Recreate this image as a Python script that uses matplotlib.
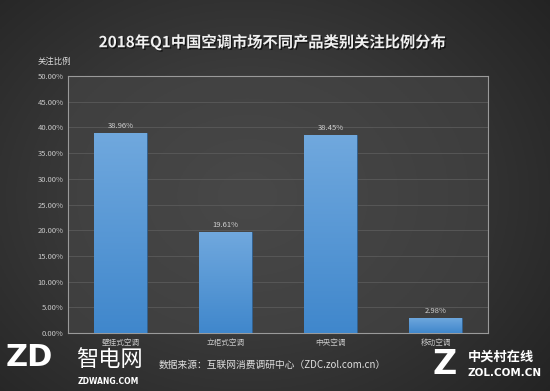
import numpy as np
import matplotlib
matplotlib.use("Agg")
import matplotlib.pyplot as plt
import matplotlib.patheffects as pe
from matplotlib.ticker import FuncFormatter, MultipleLocator

plt.rcParams['font.family'] = ['Noto Sans CJK SC', 'DejaVu Sans']

categories = ["壁挂式空调", "立柜式空调", "中央空调", "移动空调"]
values = [38.96, 19.61, 38.45, 2.98]
title = "2018年Q1中国空调市场不同产品类别关注比例分布"
ylabel = "关注比例"
source = "数据来源：互联网消费调研中心（ZDC.zol.com.cn）"

W, H = 550, 391
fig = plt.figure(figsize=(5.5, 3.91), dpi=100)

# background radial gradient
bg = fig.add_axes([0, 0, 1, 1])
yy, xx = np.mgrid[0:1:200j, 0:1:280j]
r = np.sqrt(((xx - 0.45) / 0.75) ** 2 + ((yy - 0.5) / 0.85) ** 2)
v = np.clip(0.29 - 0.16 * r, 0.1, 0.3)
img = np.dstack([v, v, v])
bg.imshow(img, extent=[0, 1, 0, 1], aspect='auto', origin='lower')
bg.set_axis_off()

ax = fig.add_axes([68 / W, 1 - 333 / H, 420 / W, 257 / H])
ax.set_facecolor('#474747')
ax.patch.set_alpha(0.6)
x = np.arange(len(categories))
bars = ax.bar(x, values, width=0.5, color='#5a9bd8', edgecolor='#2f5f8f', linewidth=0.6, zorder=3)

grad = np.linspace(0, 1, 100).reshape(-1, 1)
top = np.array([0.44, 0.66, 0.87])
bot = np.array([0.25, 0.53, 0.80])
gimg = bot + (top - bot) * grad[:, :, None] * np.ones((1, 1, 3))
for b in bars:
    x0, y0 = b.get_x(), b.get_y()
    w, h = b.get_width(), b.get_height()
    im = ax.imshow(gimg, extent=[x0, x0 + w, y0, y0 + h], origin='lower', aspect='auto', zorder=3.5)
    im.set_clip_path(b)

for xi, val in zip(x, values):
    ax.text(xi, val + 0.6, f"{val:.2f}%", ha='center', va='bottom', fontsize=5.5, color='#d0d0d0', zorder=5)

ax.set_xlim(-0.5, len(categories) - 0.5)
ax.set_ylim(0, 50)
ax.yaxis.set_major_locator(MultipleLocator(5))
ax.yaxis.set_major_formatter(FuncFormatter(lambda v, p: f"{v:.2f}%"))
ax.set_xticks(x)
ax.set_xticklabels(categories)
ax.tick_params(axis='both', length=0, labelsize=5.5, colors='#c8c8c8')
ax.tick_params(axis='x', pad=4)
ax.tick_params(axis='y', pad=3)
ax.grid(axis='y', color='#5a5a5a', linewidth=0.6, zorder=0)
for s in ax.spines.values():
    s.set_color('#9a9a9a')
    s.set_linewidth(0.8)

fig.text(272 / W, 1 - 42 / H, title, ha='center', va='center', fontsize=11, fontweight='bold',
         color='#f0f0f0', path_effects=[pe.withSimplePatchShadow(offset=(1, -1), shadow_rgbFace='black', alpha=0.6)])
fig.text(38 / W, 1 - 61 / H, ylabel, ha='left', va='center', fontsize=6, color='#dddddd')
fig.text(272 / W, 1 - 365 / H, source, ha='center', va='center', fontsize=7, color='#e0e0e0')

# watermark logos as text
fig.text(6 / W, 1 - 358 / H, "ZD", ha='left', va='center', fontsize=22, fontweight='bold', color='white',
         family=['DejaVu Sans'])
fig.text(76 / W, 1 - 360 / H, "智电网", ha='left', va='center', fontsize=16, color='white')
fig.text(78 / W, 1 - 382 / H, "ZDWANG.COM", ha='left', va='center', fontsize=5.5, fontweight='bold', color='white',
         family=['DejaVu Sans'])
fig.text(445 / W, 1 - 365 / H, "Z", ha='center', va='center', fontsize=24, fontweight='bold', color='white',
         family=['DejaVu Sans'])
fig.text(468 / W, 1 - 357 / H, "中关村在线", ha='left', va='center', fontsize=9.5, fontweight='bold', color='white')
fig.text(468 / W, 1 - 373 / H, "ZOL.COM.CN", ha='left', va='center', fontsize=7.5, fontweight='bold', color='white',
         family=['DejaVu Sans'])

fig.savefig("out.png", dpi=100)
